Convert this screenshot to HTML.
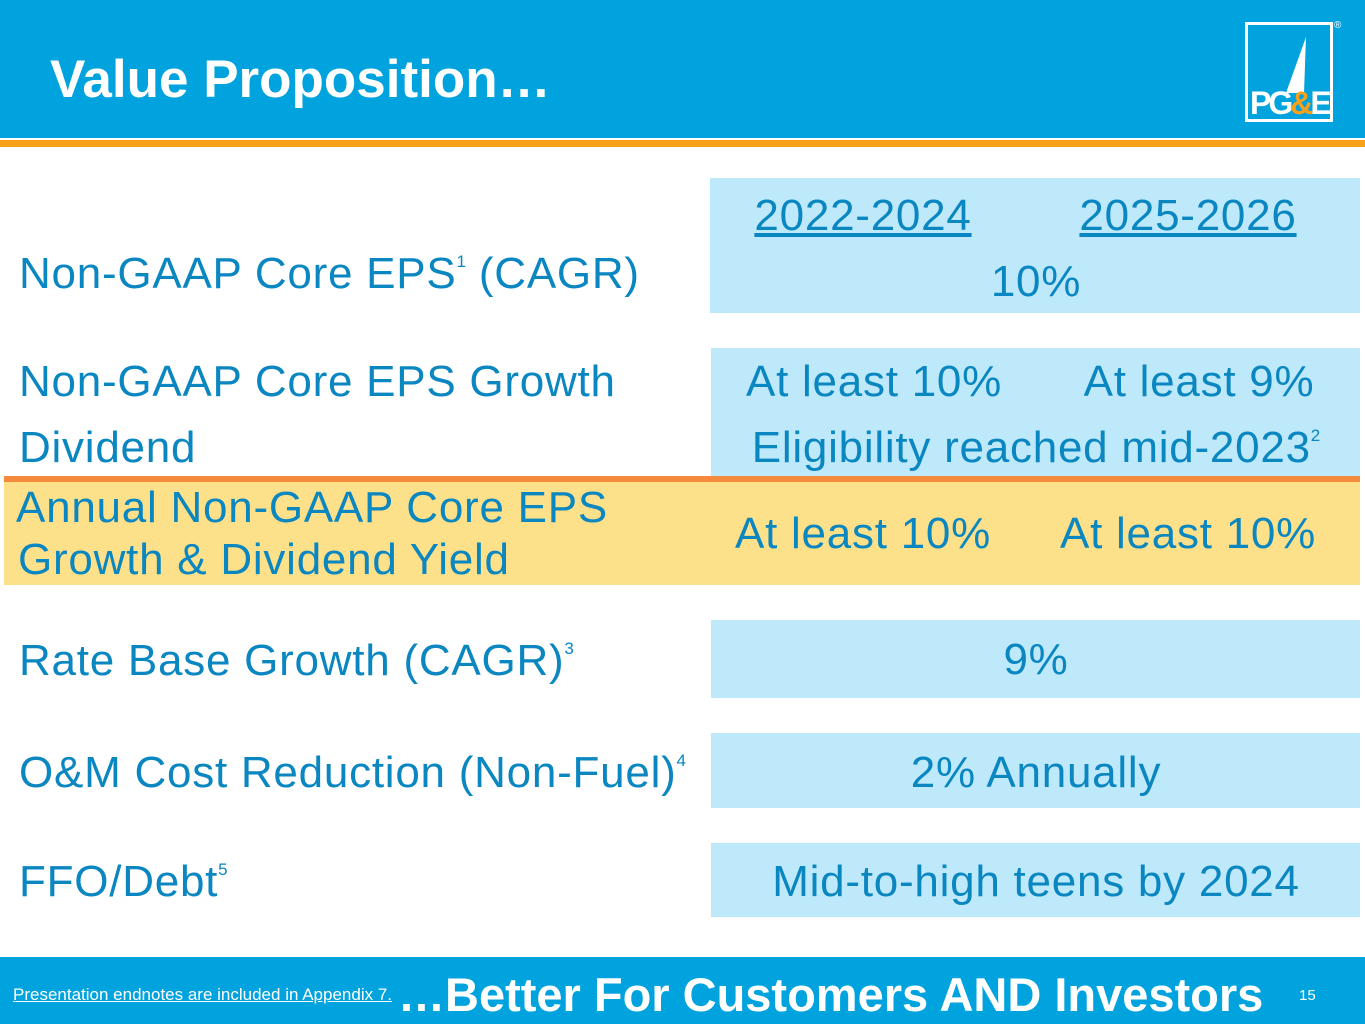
<!DOCTYPE html>
<html><head><meta charset="utf-8"><style>
body{margin:0;width:1365px;height:1024px;position:relative;overflow:hidden;background:#fff;font-family:"Liberation Sans",sans-serif}
div{position:absolute}
.t{font-size:44px;line-height:44px;color:#0a86c0;white-space:nowrap;letter-spacing:0.75px}
.box{background:#bde9fb}
.c{text-align:center}
sup{font-size:17px;vertical-align:top;position:relative;top:-12px;letter-spacing:0}
</style></head><body>
<div style="left:0;top:0;width:1365px;height:138px;background:#00a3de"></div>
<div style="left:0;top:140px;width:1365px;height:7px;background:#f7a11a"></div>
<div style="left:50px;top:52px;font-size:53px;line-height:56px;font-weight:bold;color:#fff">Value Proposition…</div>
<div style="left:1245px;top:22px;width:82px;height:94px;border:3px solid #fff">
 <svg width="82" height="94" style="position:absolute;left:0;top:0"><polygon points="58,12 56,68 38,68" fill="#fff"/></svg>
 <div style="left:2px;top:62px;font-size:32px;font-weight:bold;color:#fff;letter-spacing:-3px;line-height:32px">PG<span style="color:#f7a11a">&amp;</span>E</div>
</div>
<div style="left:1334px;top:20px;font-size:10px;color:#fff">®</div>

<div class="box" style="left:710px;top:178px;width:650px;height:135px"></div>
<div class="box" style="left:711px;top:348px;width:649px;height:130px"></div>
<div style="left:4px;top:482px;width:1356px;height:103px;background:#fde08a"></div>
<div style="left:4px;top:476px;width:1356px;height:6px;background:#f58a3c"></div>
<div class="box" style="left:711px;top:620px;width:649px;height:78px"></div>
<div class="box" style="left:711px;top:733px;width:649px;height:75px"></div>
<div class="box" style="left:711px;top:843px;width:649px;height:74px"></div>

<div class="t" style="left:19px;top:252px">Non-GAAP Core EPS<sup>1</sup> (CAGR)</div>
<div class="t" style="left:19px;top:360px">Non-GAAP Core EPS Growth</div>
<div class="t" style="left:19px;top:426px">Dividend</div>
<div class="t" style="left:16px;top:486px">Annual Non-GAAP Core EPS</div>
<div class="t" style="left:18px;top:538px">Growth &amp; Dividend Yield</div>
<div class="t" style="left:19px;top:639px">Rate Base Growth (CAGR)<sup>3</sup></div>
<div class="t" style="left:19px;top:751px">O&amp;M Cost Reduction (Non-Fuel)<sup>4</sup></div>
<div class="t" style="left:19px;top:860px">FFO/Debt<sup>5</sup></div>

<div class="t c" style="left:713px;width:300px;top:194px;text-decoration:underline">2022-2024</div>
<div class="t c" style="left:1038px;width:300px;top:194px;text-decoration:underline">2025-2026</div>
<div class="t c" style="left:736px;width:600px;top:260px">10%</div>
<div class="t c" style="left:724px;width:300px;top:360px">At least 10%</div>
<div class="t c" style="left:1049px;width:300px;top:360px">At least 9%</div>
<div class="t c" style="left:736px;width:600px;top:426px">Eligibility reached mid-2023<sup>2</sup></div>
<div class="t c" style="left:713px;width:300px;top:512px">At least 10%</div>
<div class="t c" style="left:1038px;width:300px;top:512px">At least 10%</div>
<div class="t c" style="left:736px;width:600px;top:638px">9%</div>
<div class="t c" style="left:736px;width:600px;top:751px">2% Annually</div>
<div class="t c" style="left:736px;width:600px;top:860px">Mid-to-high teens by 2024</div>

<div style="left:0;top:957px;width:1365px;height:67px;background:#00a3de"></div>
<div style="left:13px;top:985px;font-size:17px;line-height:20px;color:#fff;text-decoration:underline;white-space:nowrap">Presentation endnotes are included in Appendix 7.</div>
<div style="left:398px;top:969px;font-size:47px;line-height:52px;font-weight:bold;color:#fff;white-space:nowrap">…Better For Customers AND Investors</div>
<div style="left:1299px;top:987px;font-size:15px;color:#fff">15</div>
</body></html>
